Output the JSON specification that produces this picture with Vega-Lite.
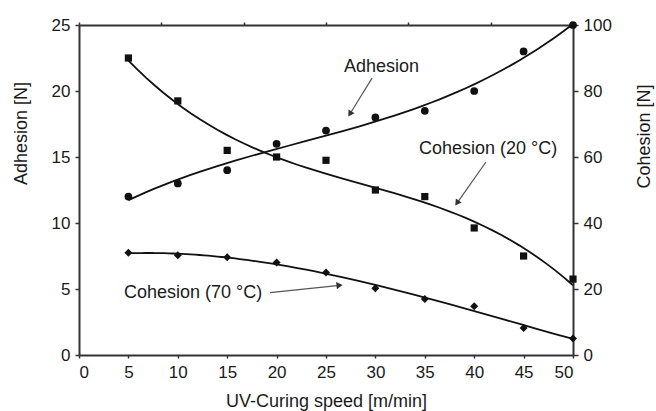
{
  "$schema": "https://vega.github.io/schema/vega-lite/v6.json",
  "width": 494,
  "height": 330,
  "autosize": "none",
  "padding": {"left": 79, "top": 25, "right": 83, "bottom": 56},
  "background": "white",
  "config": {
    "view": {"stroke": null},
    "font": "Liberation Sans",
    "axis": {
      "grid": false,
      "domainColor": "#333333",
      "domainWidth": 2,
      "tickColor": "#333333",
      "tickWidth": 1.5,
      "labelColor": "#1a1a1a",
      "titleColor": "#1a1a1a",
      "labelFont": "Liberation Sans",
      "titleFont": "Liberation Sans",
      "labelFontSize": 17,
      "titleFontSize": 18,
      "titleFontWeight": "normal"
    }
  },
  "datasets": {
    "adh": [
      {"speed": 5, "value": 12},
      {"speed": 10, "value": 13},
      {"speed": 15, "value": 14},
      {"speed": 20, "value": 16},
      {"speed": 25, "value": 17},
      {"speed": 30, "value": 18},
      {"speed": 35, "value": 18.5},
      {"speed": 40, "value": 20},
      {"speed": 45, "value": 23},
      {"speed": 50, "value": 25}
    ],
    "coh": [
      {"series": "20", "speed": 5, "value": 90},
      {"series": "20", "speed": 10, "value": 77},
      {"series": "20", "speed": 15, "value": 62},
      {"series": "20", "speed": 20, "value": 60},
      {"series": "20", "speed": 25, "value": 59},
      {"series": "20", "speed": 30, "value": 50},
      {"series": "20", "speed": 35, "value": 48},
      {"series": "20", "speed": 40, "value": 38.5},
      {"series": "20", "speed": 45, "value": 30},
      {"series": "20", "speed": 50, "value": 23},
      {"series": "70", "speed": 5, "value": 31},
      {"series": "70", "speed": 10, "value": 30.2},
      {"series": "70", "speed": 15, "value": 29.6},
      {"series": "70", "speed": 20, "value": 28},
      {"series": "70", "speed": 25, "value": 25},
      {"series": "70", "speed": 30, "value": 20.2},
      {"series": "70", "speed": 35, "value": 17},
      {"series": "70", "speed": 40, "value": 14.8},
      {"series": "70", "speed": 45, "value": 8.2},
      {"series": "70", "speed": 50, "value": 5}
    ],
    "notes": [
      {"label": "Adhesion", "x": 30.62, "y": 21.44},
      {"label": "Cohesion (20 °C)", "x": 41.4, "y": 15.23},
      {"label": "Cohesion (70 °C)", "x": 11.54, "y": 4.32}
    ],
    "arrows": [
      {"id": "a", "x": 29.66, "y": 20.98, "x2": 27.42, "y2": 18.26},
      {"id": "b", "x": 41.19, "y": 14.62, "x2": 38.26, "y2": 11.51},
      {"id": "c", "x": 19.33, "y": 4.72, "x2": 26.37, "y2": 5.28}
    ]
  },
  "resolve": {"scale": {"y": "independent"}, "axis": {"x": "independent"}},
  "layer": [
    {
      "data": {"name": "adh"},
      "encoding": {
        "x": {
          "field": "speed", "type": "quantitative",
          "scale": {"domain": [0, 50], "nice": false},
          "axis": {
            "orient": "bottom",
            "values": [0, 5, 10, 15, 20, 25, 30, 35, 40, 45, 50],
            "tickSize": 3,
            "labelPadding": 19,
            "labelBaseline": "alphabetic",
            "title": "UV-Curing speed [m/min]",
            "titleBaseline": "alphabetic",
            "titleY": 51
          }
        },
        "y": {
          "field": "value", "type": "quantitative",
          "scale": {"domain": [0, 25], "nice": false},
          "axis": {
            "orient": "left",
            "values": [0, 5, 10, 15, 20, 25],
            "tickSize": 4,
            "labelPadding": 5,
            "title": "Adhesion [N]",
            "titleAngle": 270,
            "titleBaseline": "alphabetic",
            "titleAlign": "center",
            "titleX": -53,
            "titleY": 108
          }
        }
      },
      "layer": [
        {
          "transform": [{"regression": "value", "on": "speed", "method": "poly", "order": 3}],
          "mark": {"type": "line", "color": "#111111", "strokeWidth": 1.8}
        },
        {
          "mark": {"type": "point", "shape": "circle", "filled": true, "opacity": 1, "color": "#111111", "size": 60}
        }
      ]
    },
    {
      "data": {"name": "coh"},
      "encoding": {
        "x": {
          "field": "speed", "type": "quantitative",
          "scale": {"domain": [0, 50], "nice": false},
          "axis": {
            "orient": "top",
            "values": [0, 8.3333, 16.6667, 25, 33.3333, 41.6667, 50],
            "labels": false,
            "tickSize": 3,
            "title": null
          }
        },
        "y": {
          "field": "value", "type": "quantitative",
          "scale": {"domain": [0, 100], "nice": false},
          "axis": {
            "orient": "right",
            "values": [0, 20, 40, 60, 80, 100],
            "tickSize": 5,
            "labelPadding": 5,
            "title": "Cohesion [N]",
            "titleAngle": 270,
            "titleBaseline": "alphabetic",
            "titleAlign": "center",
            "titleX": 76,
            "titleY": 111
          }
        }
      },
      "layer": [
        {
          "transform": [{"regression": "value", "on": "speed", "method": "poly", "order": 3, "groupby": ["series"]}],
          "mark": {"type": "line", "color": "#111111", "strokeWidth": 1.8},
          "encoding": {"detail": {"field": "series"}}
        },
        {
          "mark": {"type": "point", "filled": true, "opacity": 1, "color": "#111111"},
          "encoding": {
            "shape": {"field": "series", "type": "nominal", "scale": {"domain": ["20", "70"], "range": ["square", "diamond"]}, "legend": null},
            "size": {"field": "series", "type": "nominal", "scale": {"domain": ["20", "70"], "range": [52, 64]}, "legend": null}
          }
        }
      ]
    },
    {
      "layer": [
        {
          "data": {"name": "arrows"},
          "mark": {"type": "rule", "color": "#555555", "strokeWidth": 1.2},
          "encoding": {
            "x": {"field": "x", "type": "quantitative", "scale": {"domain": [0, 50], "nice": false}, "axis": null},
            "y": {"field": "y", "type": "quantitative", "scale": {"domain": [0, 25], "nice": false}, "axis": null},
            "x2": {"field": "x2"},
            "y2": {"field": "y2"}
          }
        },
        {
          "data": {"name": "arrows"},
          "transform": [{"filter": "datum.id === 'a'"}],
          "mark": {"type": "point", "shape": "triangle-up", "filled": true, "opacity": 1, "color": "#333333", "size": 50, "angle": 212},
          "encoding": {
            "x": {"field": "x2", "type": "quantitative", "scale": {"domain": [0, 50], "nice": false}, "axis": null},
            "y": {"field": "y2", "type": "quantitative", "scale": {"domain": [0, 25], "nice": false}, "axis": null}
          }
        },
        {
          "data": {"name": "arrows"},
          "transform": [{"filter": "datum.id === 'b'"}],
          "mark": {"type": "point", "shape": "triangle-up", "filled": true, "opacity": 1, "color": "#333333", "size": 50, "angle": 215},
          "encoding": {
            "x": {"field": "x2", "type": "quantitative", "scale": {"domain": [0, 50], "nice": false}, "axis": null},
            "y": {"field": "y2", "type": "quantitative", "scale": {"domain": [0, 25], "nice": false}, "axis": null}
          }
        },
        {
          "data": {"name": "arrows"},
          "transform": [{"filter": "datum.id === 'c'"}],
          "mark": {"type": "point", "shape": "triangle-up", "filled": true, "opacity": 1, "color": "#333333", "size": 50, "angle": 84},
          "encoding": {
            "x": {"field": "x2", "type": "quantitative", "scale": {"domain": [0, 50], "nice": false}, "axis": null},
            "y": {"field": "y2", "type": "quantitative", "scale": {"domain": [0, 25], "nice": false}, "axis": null}
          }
        },
        {
          "data": {"name": "notes"},
          "mark": {"type": "text", "font": "Liberation Sans", "fontSize": 18, "color": "#1a1a1a", "align": "center", "baseline": "alphabetic"},
          "encoding": {
            "x": {"field": "x", "type": "quantitative", "scale": {"domain": [0, 50], "nice": false}, "axis": null},
            "y": {"field": "y", "type": "quantitative", "scale": {"domain": [0, 25], "nice": false}, "axis": null},
            "text": {"field": "label"}
          }
        }
      ]
    }
  ]
}
